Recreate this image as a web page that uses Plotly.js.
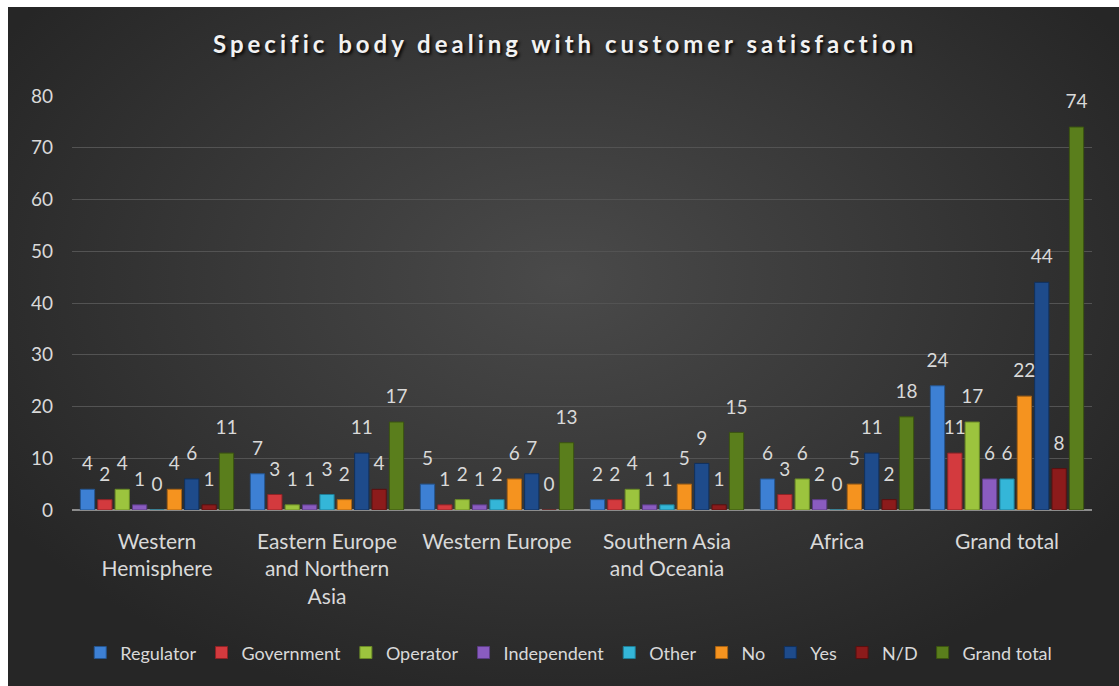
<!DOCTYPE html>
<html>
<head>
<meta charset="utf-8">
<script src="https://cdn.plot.ly/plotly-3.0.1.min.js"></script>
<style>
  html, body { margin: 0; padding: 0; background: #ffffff; }
  #wrap { position: relative; width: 1119px; height: 686px; overflow: hidden; }
  #bg { position: absolute; left: 8px; top: 7px; right: 0; bottom: 0;
        background: radial-gradient(ellipse 60% 65% at 50% 40%, #4a4a4a 0%, #3a3a3a 45%, #262626 100%); }
  #chart { position: absolute; left: 0; top: 0; width: 1119px; height: 686px; }
  .gtitle { letter-spacing: 4px; }
</style>
</head>
<body>
<div id="wrap">
  <div id="bg"></div>
  <div id="chart"></div>
</div>
<script>
const categories = [
  "Western<br>Hemisphere",
  "Eastern Europe<br>and Northern<br>Asia",
  "Western Europe",
  "Southern Asia<br>and Oceania",
  "Africa",
  "Grand total"
];
const seriesNames = ["Regulator", "Government", "Operator", "Independent", "Other", "No", "Yes", "N/D", "Grand total"];
const regulator   = [4, 7, 5, 2, 6, 24];
const government  = [2, 3, 1, 2, 3, 11];
const operator    = [4, 1, 2, 4, 6, 17];
const independent = [1, 1, 1, 1, 2, 6];
const other       = [0, 3, 2, 1, 0, 6];
const no          = [4, 2, 6, 5, 5, 22];
const yes         = [6, 11, 7, 9, 11, 44];
const nd          = [1, 4, 0, 1, 2, 8];
const grandTotal  = [11, 17, 13, 15, 18, 74];
const seriesValues = [regulator, government, operator, independent, other, no, yes, nd, grandTotal];
const colors = ["#3d80d4", "#d33a3e", "#9cc43e", "#8a5cc0", "#34b6d8", "#f5931f", "#1e4b8b", "#8c1b1b", "#5a7e1c"];
const lineColors = ["#25558f", "#8e2326", "#6a8a26", "#5c3c85", "#1f7d96", "#a86314", "#11305c", "#5a1010", "#3b5411"];

const font = "Lato, 'Open Sans', sans-serif";
const txt = "#d9d9d9";

const barTraces = seriesNames.map((name, i) => ({
  type: "bar",
  name: name,
  x: categories,
  y: seriesValues[i],
  offsetgroup: "g" + i,
  marker: { color: colors[i], line: { color: lineColors[i], width: 1 } },
  hoverinfo: "x+y+name"
}));

// value labels: scatter text grouped into the same slots as the bars
const labelTraces = seriesNames.map((name, i) => ({
  type: "scatter",
  mode: "markers+text",
  name: name,
  x: categories,
  y: seriesValues[i],
  offsetgroup: "g" + i,
  text: seriesValues[i].map(v => String(v)),
  textposition: "top center",
  textfont: { family: font, size: 19, color: txt },
  marker: { size: 21, color: "rgba(0,0,0,0)", line: { width: 0 } },
  cliponaxis: false,
  showlegend: false,
  hoverinfo: "skip"
}));

const layout = {
  width: 1119,
  height: 686,
  paper_bgcolor: "rgba(0,0,0,0)",
  plot_bgcolor: "rgba(0,0,0,0)",
  margin: { l: 72, r: 27, t: 96, b: 176, autoexpand: false },
  barmode: "group",
  bargap: 0.08,
  bargroupgap: 0.18,
  scattermode: "group",
  scattergap: 0.08,
  title: {
    text: "Specific body dealing with customer satisfaction",
    x: 0.505, xanchor: "center", xref: "container",
    y: 0.935, yanchor: "middle", yref: "container",
    font: { family: font, size: 24, color: "#f2f2f2", weight: "bold", shadow: "2px 2px 3px rgba(0,0,0,0.85)" }
  },
  xaxis: {
    type: "category",
    showgrid: false,
    showline: false,
    zeroline: false,
    ticks: "",
    tickangle: 0,
    automargin: false,
    tickfont: { family: font, size: 21, color: txt },
    ticklabelstandoff: 17,
    fixedrange: true
  },
  yaxis: {
    range: [0, 80],
    tickvals: [0, 10, 20, 30, 40, 50, 60, 70, 80],
    showgrid: true,
    gridcolor: "#535353",
    gridwidth: 1,
    zeroline: true,
    zerolinecolor: "#8c8c8c",
    zerolinewidth: 2,
    showline: false,
    ticks: "",
    automargin: false,
    tickfont: { family: font, size: 19, color: txt },
    ticklabelstandoff: 18,
    fixedrange: true
  },
  legend: {
    orientation: "h",
    x: 0.487, xanchor: "center",
    y: -0.345, yanchor: "middle",
    font: { family: font, size: 18, color: txt },
    bgcolor: "rgba(0,0,0,0)",
    itemwidth: 30,
    traceorder: "normal"
  },
  showlegend: true
};

Plotly.newPlot("chart", barTraces.concat(labelTraces), layout, { displayModeBar: false, staticPlot: true });
</script>
</body>
</html>
